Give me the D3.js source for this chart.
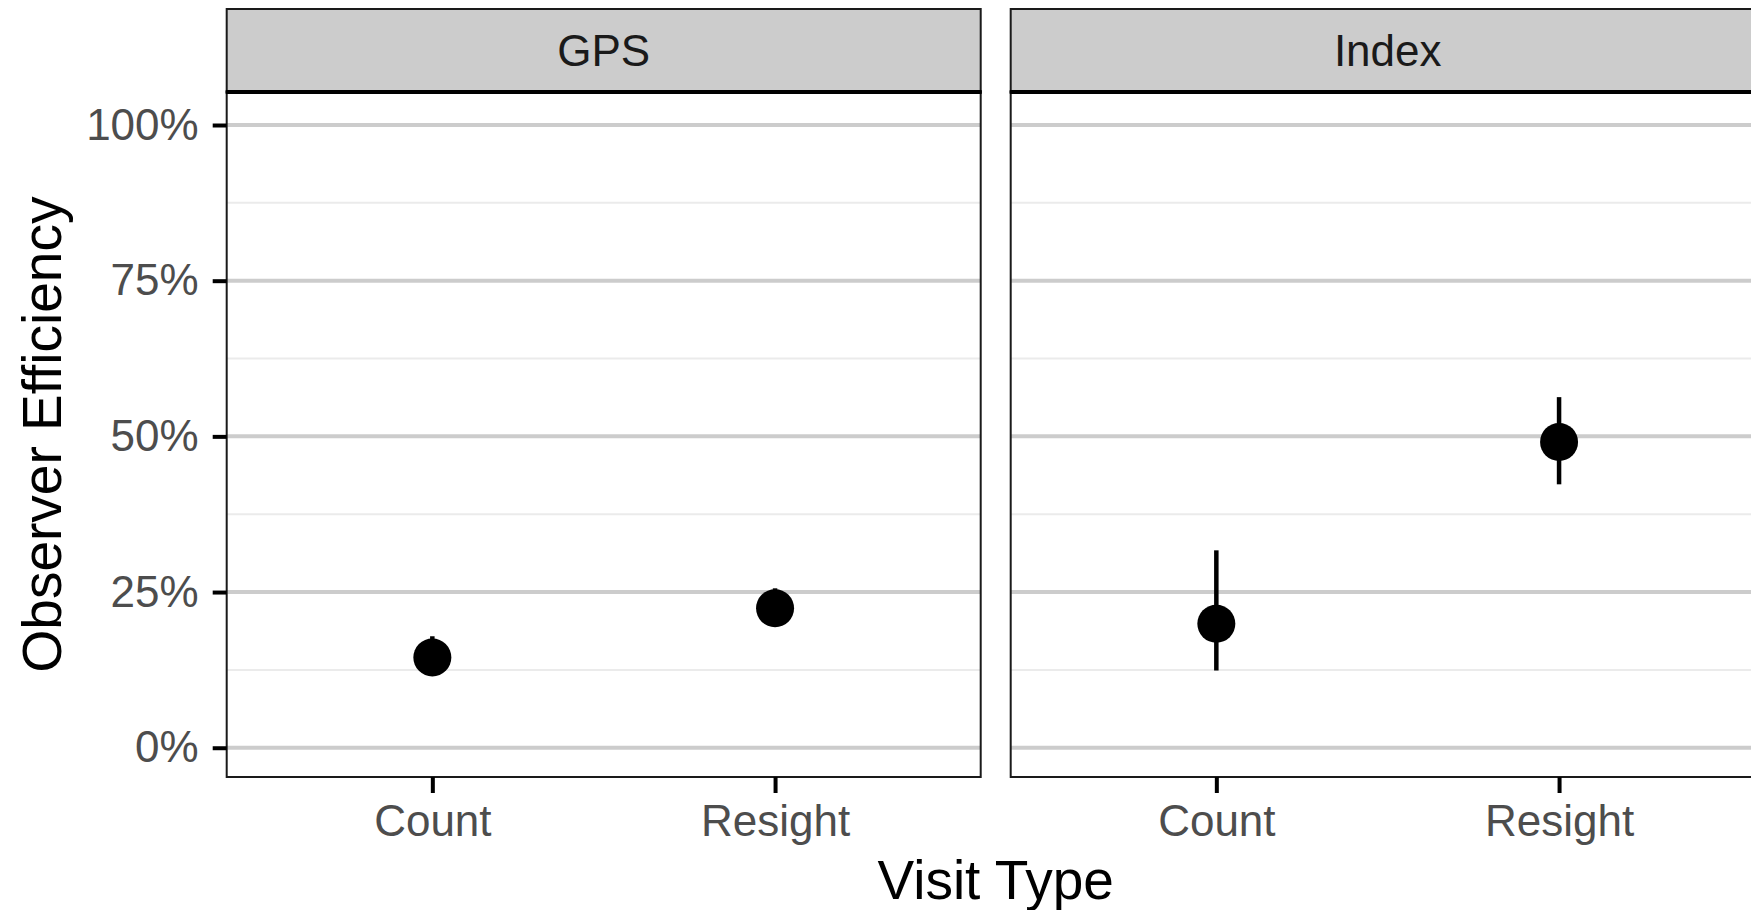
<!DOCTYPE html>
<html>
<head>
<meta charset="utf-8">
<script src="https://cdn.jsdelivr.net/npm/d3@7"></script>
<style>
  html, body { margin: 0; padding: 0; background: #fff; overflow: hidden; }
  text { font-family: "Liberation Sans", Arial, sans-serif; }
</style>
</head>
<body>
<div id="container"></div>
<script>
// facet panels and categories
const panels = ['GPS', 'Index'];
const visitTypes = ['Count', 'Resight'];
// observer efficiency estimates, by panel, in visitTypes order
const estimate = { GPS: [0.145, 0.224], Index: [0.199, 0.491] };
const lower = { GPS: [0.118, 0.196], Index: [0.124, 0.423] };
const upper = { GPS: [0.179, 0.256], Index: [0.317, 0.563] };
const yTicks = [0, 0.25, 0.5, 0.75, 1];
const yMinor = [0.125, 0.375, 0.625, 0.875];

const width = 1751, height = 910;
const panelW = 754, panelGap = 30;
const panelLeft = 226.7;
const stripTop = 9, stripBottom = 92, panelBottom = 777;

const svg = d3.select('#container').append('svg').attr('width', width).attr('height', height);

const y = d3.scaleLinear().domain([-0.047, 1.053]).range([panelBottom, stripBottom]);
const fmt = d3.format('.0%');

panels.forEach((p, i) => {
  const x0 = panelLeft + i * (panelW + panelGap);
  const x = d3.scalePoint().domain(visitTypes).range([x0, x0 + panelW]).padding(0.6);
  const g = svg.append('g');

  // strip
  g.append('rect').attr('x', x0).attr('y', stripTop).attr('width', panelW).attr('height', stripBottom - stripTop)
    .attr('fill', '#CCCCCC').attr('stroke', '#1a1a1a').attr('stroke-width', 2);
  g.append('text').attr('x', x0 + panelW / 2).attr('y', (stripTop + stripBottom) / 2).attr('dy', '0.36em')
    .attr('text-anchor', 'middle').attr('font-size', 44).attr('fill', '#1A1A1A').text(p);

  // grid
  yMinor.forEach(t => g.append('line').attr('x1', x0).attr('x2', x0 + panelW).attr('y1', y(t)).attr('y2', y(t))
    .attr('stroke', '#EBEBEB').attr('stroke-width', 2));
  yTicks.forEach(t => g.append('line').attr('x1', x0).attr('x2', x0 + panelW).attr('y1', y(t)).attr('y2', y(t))
    .attr('stroke', '#CCCCCC').attr('stroke-width', 4));

  // point ranges
  visitTypes.forEach((v, j) => {
    g.append('line').attr('x1', x(v)).attr('x2', x(v)).attr('y1', y(lower[p][j])).attr('y2', y(upper[p][j]))
      .attr('stroke', '#000').attr('stroke-width', 4.5);
    g.append('circle').attr('cx', x(v)).attr('cy', y(estimate[p][j])).attr('r', 19).attr('fill', '#000');
  });

  // panel border
  g.append('rect').attr('x', x0).attr('y', stripBottom).attr('width', panelW).attr('height', panelBottom - stripBottom)
    .attr('fill', 'none').attr('stroke', '#1a1a1a').attr('stroke-width', 2);
  g.append('line').attr('x1', x0 - 1).attr('x2', x0 + panelW + 1).attr('y1', stripBottom).attr('y2', stripBottom)
    .attr('stroke', '#000').attr('stroke-width', 4);

  // x axis
  const xa = g.append('g').attr('transform', `translate(0,${panelBottom})`)
    .call(d3.axisBottom(x).tickSize(16).tickPadding(12));
  xa.select('.domain').remove();
  xa.selectAll('line').attr('stroke', '#000').attr('stroke-width', 4);
  xa.selectAll('text').attr('font-size', 44).attr('fill', '#4D4D4D').attr('font-family', '"Liberation Sans", Arial, sans-serif');

  if (i === 0) {
    const ya = g.append('g').attr('transform', `translate(${x0},0)`)
      .call(d3.axisLeft(y).tickValues(yTicks).tickFormat(fmt).tickSize(14).tickPadding(14));
    ya.select('.domain').remove();
    ya.selectAll('line').attr('stroke', '#000').attr('stroke-width', 4);
    ya.selectAll('text').attr('font-size', 44).attr('fill', '#4D4D4D').attr('font-family', '"Liberation Sans", Arial, sans-serif');
  }
});

// axis titles
svg.append('text').attr('x', panelLeft + panelW + panelGap / 2).attr('y', 899)
  .attr('text-anchor', 'middle').attr('font-size', 55).attr('fill', '#000').text('Visit Type');
svg.append('text').attr('transform', `translate(61,${(stripBottom + panelBottom) / 2}) rotate(-90)`)
  .attr('text-anchor', 'middle').attr('font-size', 55).attr('fill', '#000').text('Observer Efficiency');
</script>
</body>
</html>
